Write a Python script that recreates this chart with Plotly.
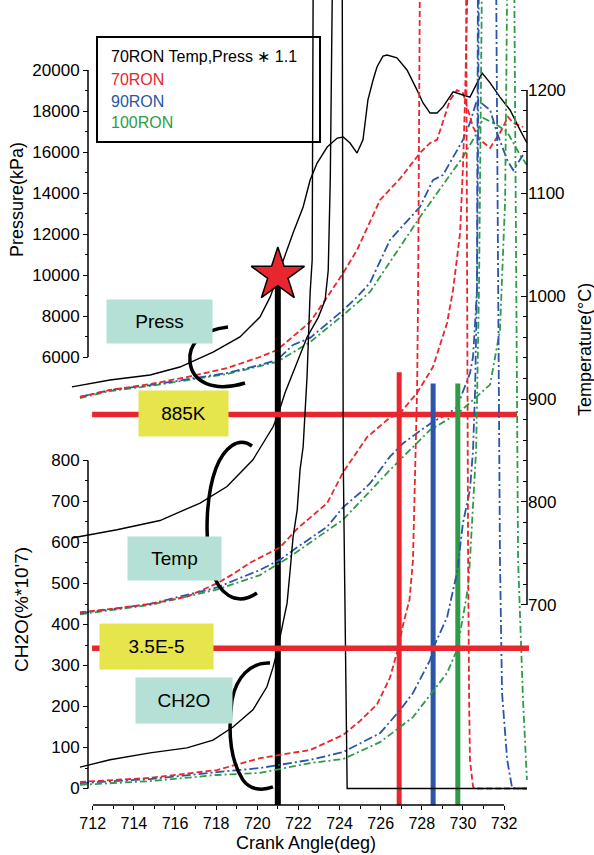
import plotly.graph_objects as go

# ---------------- data ----------------
# Black: 70RON, Temp & Press *1.1
blk_p_deg = [710.99, 712.84, 714.79, 716.24, 717.85, 719.16, 720.13, 720.63, 721.01, 721.35, 721.74, 722.23,
             722.57, 722.91, 723.40, 723.89, 724.18, 724.51, 724.85, 725.14, 725.38, 725.63, 725.82, 726.11,
             726.31, 726.79, 727.28, 727.77, 728.06, 728.40, 728.74, 729.03, 729.52, 730.00, 730.34, 730.93,
             731.32, 731.80, 732.29, 732.78, 733.11]
blk_p_kpa = [4540, 4880, 5120, 5510, 6240, 6980, 7950, 8930, 10000, 10980, 12050, 13320,
             14630, 15460, 16240, 16680, 16730, 16440, 15950, 16590, 18540, 19510, 20150, 20680,
             20730, 20590, 20000, 19020, 18390, 17900, 17900, 18200, 18930, 18780, 18680, 19850,
             19370, 18680, 18050, 17070, 16440]
blk_t_deg = [710.99, 713.18, 715.27, 717.22, 718.53, 719.79, 720.77, 721.01, 721.35, 721.74, 721.99, 722.23,
             722.42, 722.96, 723.30, 723.45, 723.55, 723.65, 733.11]
blk_t_c = [765, 773, 782, 799, 815, 841, 873, 885, 906, 925, 938, 950,
           960, 979, 996, 1025, 1113, 1300, 1300]
blk_c_deg = [711.38, 712.84, 714.79, 716.58, 717.85, 718.82, 719.79, 720.47, 720.77, 721.01, 721.11, 721.45,
             721.60, 721.74, 721.94, 722.08, 722.23, 722.32, 722.42, 722.57, 722.67, 722.72, 724.13, 724.18,
             724.32, 724.37, 733.11]
blk_c_val = [52, 70, 87, 99, 118, 150, 192, 248, 296, 342, 370, 452,
             533, 613, 679, 777, 833, 923, 1004, 1209, 1289, 2000, 2000, 801,
             216, 0, 0]

# Red: 70RON
red_p_deg = [711.38, 712.84, 714.79, 716.58, 718.53, 720.13, 720.96, 722.57, 723.40, 724.18, 724.85, 725.97,
             726.94, 727.91, 728.40, 728.74, 729.37, 729.71, 730.00, 730.20, 730.49, 730.83, 731.32, 731.80,
             732.19, 732.44, 732.92]
red_p_kpa = [4050, 4390, 4680, 5020, 5460, 6000, 6340, 7710, 8930, 10100, 11220, 13660,
             14700, 15950, 16440, 16590, 18540, 19020, 18880, 18200, 17220, 16590, 16200, 16930,
             17710, 17420, 17220]
red_t_deg = [711.38, 712.84, 714.79, 716.58, 718.04, 718.82, 719.65, 721.11, 721.94, 723.40, 724.18, 725.34,
             726.45, 726.89, 727.77, 728.54, 729.23, 729.52, 729.86, 730.00, 730.10, 730.20, 730.22, 733.11]
red_t_c = [693, 696, 701, 708, 721, 730, 741, 756, 774, 799, 829, 863,
           882, 885, 906, 931, 974, 1006, 1061, 1125, 1190, 1278, 1300, 1300]
red_c_deg = [711.38, 714.79, 718.04, 720.13, 722.57, 724.18, 725.00, 725.82, 726.45, 726.85, 727.09, 727.40,
             727.57, 727.67, 727.77, 727.82, 727.91, 730.15, 730.20, 730.25, 730.30, 730.34, 730.49, 730.59,
             733.11]
red_c_val = [16, 26, 45, 74, 94, 131, 165, 205, 270, 342, 400, 460,
             557, 760, 972, 1216, 2000, 2000, 1191, 557, 216, 70, 4, 0,
             0]

# Blue: 90RON
blu_p_deg = [711.38, 712.84, 714.79, 716.58, 718.53, 720.13, 720.96, 721.74, 722.57, 724.18, 724.85, 725.48,
             726.45, 727.91, 728.54, 729.03, 730.00, 730.34, 730.68, 730.83, 731.32, 731.66, 732.15, 732.44,
             732.92]
blu_p_kpa = [4050, 4390, 4630, 4930, 5220, 5610, 5850, 6590, 6930, 8290, 8930, 9610,
             11710, 13320, 14630, 14880, 16590, 17420, 18540, 18440, 18050, 16930, 15610, 15120,
             15850]
blu_t_deg = [711.38, 714.79, 718.04, 720.13, 721.11, 721.94, 723.40, 724.18, 725.00, 725.48, 726.45, 727.09,
             727.77, 728.54, 729.23, 729.71, 730.34, 730.49, 730.59, 730.68, 730.73, 730.77, 733.11]
blu_t_c = [692, 701, 717, 734, 744, 756, 776, 795, 809, 818, 844, 857,
           867, 878, 885, 892, 925, 941, 974, 1006, 1142, 1300, 1300]
blu_c_deg = [711.38, 714.79, 718.04, 720.13, 722.57, 724.18, 725.97, 726.94, 727.57, 728.40, 728.55, 729.23,
             729.52, 729.71, 730.00, 730.34, 730.49, 730.59, 730.68, 730.73, 731.61, 731.71, 731.80, 731.90,
             732.15, 732.39, 733.11]
blu_c_val = [13, 23, 40, 50, 70, 89, 135, 191, 233, 313, 342, 418,
             484, 526, 648, 728, 826, 972, 1216, 2000, 2000, 1216, 557, 233,
             70, 1, 0]

# Green: 100RON
grn_p_deg = [711.38, 712.84, 714.79, 716.58, 718.53, 720.13, 720.96, 722.57, 724.18, 725.48, 727.91, 730.00,
             730.68, 730.98, 731.66, 732.15, 732.44, 732.78, 733.11]
grn_p_kpa = [4000, 4340, 4590, 4880, 5170, 5560, 5760, 6730, 8050, 9170, 12830, 15760,
             16930, 17660, 17320, 16980, 16440, 15850, 15370]
grn_t_deg = [711.38, 714.79, 718.04, 720.13, 721.60, 724.18, 726.45, 728.40, 729.76, 730.49, 731.32, 731.80,
             732.05, 732.15, 733.11]
grn_t_c = [691, 700, 715, 729, 747, 783, 831, 870, 886, 899, 914, 967,
           1093, 1300, 1300]
grn_c_deg = [711.38, 714.79, 718.04, 720.13, 722.57, 724.18, 725.97, 727.57, 729.23, 729.71, 730.00, 730.25,
             730.34, 730.64, 730.78, 730.93, 732.49, 732.58, 732.68, 732.92, 733.11]
grn_c_val = [9, 18, 33, 38, 62, 72, 113, 174, 282, 338, 418, 491,
             557, 826, 1216, 2000, 2000, 1216, 557, 216, 21]

# markers of the analysis
TEMP_THRESHOLD = 885          # "885K" line, temperature axis
CH2O_THRESHOLD = 342          # "3.5E-5" line, CH2O axis
TEMP_LINE_DEG = [711.97, 732.63]
CH2O_LINE_DEG = [711.97, 733.21]
STAR_DEG, STAR_KPA = 721.0, 10000
ONSET_DEG = {"red": 726.9, "blue": 728.55, "green": 729.75}
ONSET_TOP_C = {"red": 926, "blue": 915, "green": 915}

x_ticks = list(range(712, 733, 2))
p_ticks = list(range(6000, 20001, 2000))
t_ticks = list(range(700, 1201, 100))
c_ticks = list(range(0, 801, 100))

# ---------------- layout geometry ----------------
PL, PR, PT, PB = 70, 531, 0, 805
X_RANGE = [710.896, 733.308]
P_RANGE = [-15854, 23415]
T_RANGE = [505.8, 1287.4]
C_RANGE = [-40.2, 1923]


def xp(px):
    return (px - PL) / (PR - PL)


def yp(py):
    return (PB - py) / (PB - PT)


RED = "#e8262d"
BLUE = "#2a56a8"
GREEN = "#2e9b48"
TEAL = "#b4e0d6"
YELLOW = "#e6e54b"
FONT = "Liberation Sans, Arial, sans-serif"

fig = go.Figure()
# grid holder subplot (drawn first)
fig.add_trace(go.Scatter(x=[], y=[], xaxis="x", yaxis="y", showlegend=False, hoverinfo="skip"))

DASH_R = "6px,3px"
DASH_B = "9px,3px,2px,3px"
DASH_G = "7px,3px,2px,3px"

series = [
    (grn_c_deg, grn_c_val, "y4", GREEN, DASH_G, 1.8),
    (grn_t_deg, grn_t_c, "y3", GREEN, DASH_G, 1.8),
    (grn_p_deg, grn_p_kpa, "y2", GREEN, DASH_G, 1.8),
    (blu_c_deg, blu_c_val, "y4", BLUE, DASH_B, 1.8),
    (blu_t_deg, blu_t_c, "y3", BLUE, DASH_B, 1.8),
    (blu_p_deg, blu_p_kpa, "y2", BLUE, DASH_B, 1.8),
    (red_c_deg, red_c_val, "y4", RED, DASH_R, 1.8),
    (red_t_deg, red_t_c, "y3", RED, DASH_R, 1.8),
    (red_p_deg, red_p_kpa, "y2", RED, DASH_R, 1.8),
    (blk_c_deg, blk_c_val, "y4", "black", "solid", 1.4),
    (blk_t_deg, blk_t_c, "y3", "black", "solid", 1.4),
    (blk_p_deg, blk_p_kpa, "y2", "black", "solid", 1.4),
]
for xs, ys, ya, col, dash, w in series:
    fig.add_trace(go.Scatter(x=xs, y=ys, xaxis="x2", yaxis=ya, mode="lines",
                             line=dict(color=col, width=w, dash=dash),
                             showlegend=False, hoverinfo="skip"))

# threshold lines
fig.add_trace(go.Scatter(x=TEMP_LINE_DEG, y=[TEMP_THRESHOLD] * 2, xaxis="x2", yaxis="y3", mode="lines",
                         line=dict(color=RED, width=5.5), showlegend=False, hoverinfo="skip"))
fig.add_trace(go.Scatter(x=CH2O_LINE_DEG, y=[CH2O_THRESHOLD] * 2, xaxis="x2", yaxis="y4", mode="lines",
                         line=dict(color=RED, width=5.5), showlegend=False, hoverinfo="skip"))
for key, col in (("red", RED), ("blue", BLUE), ("green", GREEN)):
    fig.add_trace(go.Scatter(x=[ONSET_DEG[key]] * 2, y=[ONSET_TOP_C[key], T_RANGE[0]], xaxis="x2", yaxis="y3",
                             mode="lines", line=dict(color=col, width=5), showlegend=False, hoverinfo="skip"))
fig.add_trace(go.Scatter(x=[STAR_DEG, STAR_DEG], y=[STAR_KPA, P_RANGE[0]], xaxis="x2", yaxis="y2", mode="lines",
                         line=dict(color="black", width=6), showlegend=False, hoverinfo="skip"))
fig.add_trace(go.Scatter(x=[STAR_DEG], y=[STAR_KPA], xaxis="x2", yaxis="y2", mode="markers",
                         marker=dict(symbol="star", size=40, color=RED, line=dict(color="black", width=1.5)),
                         showlegend=False, hoverinfo="skip", cliponaxis=False))

grid_style = dict(showgrid=True, gridcolor="#c4c4c4", griddash="dot", gridwidth=1)
tickfont = dict(family=FONT, size=16, color="black")
ytickfont = dict(family=FONT, size=17, color="black")

fig.update_layout(
    width=594, height=855,
    margin=dict(l=PL, r=594 - PR, t=PT, b=855 - PB),
    paper_bgcolor="white", plot_bgcolor="white",
    font=dict(family=FONT, color="black"),
    showlegend=False,
    xaxis=dict(domain=[xp(92.7), xp(527)], range=[712, 733.113], anchor="y",
               tickmode="array", tickvals=x_ticks, ticktext=[str(v) for v in x_ticks],
               ticks="outside", ticklen=4, tickcolor="black",
               tickfont=tickfont, showline=False, zeroline=False,
               minor=dict(tickmode="array", tickvals=list(range(713, 732, 2)), ticks="outside", ticklen=3,
                          tickcolor="black", showgrid=True, gridcolor="#c4c4c4", griddash="dot"),
               **grid_style),
    yaxis=dict(domain=[0, yp(66)], range=[-15854, 20195], anchor="x", dtick=1000, tick0=0,
               showticklabels=False, ticks="", zeroline=False, showline=False, **grid_style),
    xaxis2=dict(domain=[0, 1], range=X_RANGE, anchor="y2", visible=False),
    yaxis2=dict(domain=[0, 1], range=P_RANGE, anchor="free", position=xp(88), side="left",
                tickmode="array", tickvals=p_ticks, ticktext=[str(v) for v in p_ticks],
                ticks="outside", ticklen=5, tickcolor="black",
                tickfont=ytickfont, showgrid=False, zeroline=False, showline=False,
                minor=dict(tickmode="array", tickvals=list(range(7000, 20000, 2000)), ticks="outside",
                           ticklen=3, tickcolor="black")),
    yaxis3=dict(range=T_RANGE, overlaying="y2", anchor="free", position=xp(527), side="right",
                tickmode="array", tickvals=t_ticks, ticktext=[str(v) for v in t_ticks],
                ticks="inside", ticklen=6, tickcolor="black",
                tickfont=ytickfont, showgrid=False, zeroline=False, showline=False,
                minor=dict(tickmode="array", tickvals=[v for v in range(700, 1201, 20) if v % 100],
                           ticks="inside", ticklen=4, tickcolor="black")),
    yaxis4=dict(range=C_RANGE, overlaying="y2", anchor="free", position=xp(88), side="left",
                tickmode="array", tickvals=c_ticks, ticktext=[str(v) for v in c_ticks],
                ticks="outside", ticklen=5, tickcolor="black",
                tickfont=ytickfont, showgrid=False, zeroline=False, showline=False,
                minor=dict(tickmode="array", tickvals=list(range(50, 800, 100)), ticks="outside",
                           ticklen=3, tickcolor="black")),
)

shapes = []
# partial axis lines
shapes.append(dict(type="line", xref="x", yref="paper", x0=712, x1=732, y0=0, y1=0,
                   line=dict(color="black", width=1.5)))
shapes.append(dict(type="line", xref="paper", yref="y2", x0=xp(88), x1=xp(88), y0=p_ticks[0], y1=p_ticks[-1],
                   line=dict(color="black", width=1.5)))
shapes.append(dict(type="line", xref="paper", yref="y4", x0=xp(88), x1=xp(88), y0=c_ticks[0], y1=c_ticks[-1],
                   line=dict(color="black", width=1.5)))
shapes.append(dict(type="line", xref="paper", yref="y3", x0=xp(527), x1=xp(527), y0=t_ticks[0], y1=t_ticks[-1],
                   line=dict(color="black", width=1.5)))
# legend frame
shapes.append(dict(type="rect", xref="paper", yref="paper", x0=xp(97), x1=xp(320), y0=yp(142), y1=yp(37),
                   line=dict(color="black", width=2), fillcolor="rgba(0,0,0,0)"))


def bezier_path(pts):
    s = "M {:.4f},{:.4f}".format(xp(pts[0][0]), yp(pts[0][1]))
    rest = pts[1:]
    for i in range(0, len(rest), 3):
        a, b, c = rest[i:i + 3]
        s += " C {:.4f},{:.4f} {:.4f},{:.4f} {:.4f},{:.4f}".format(xp(a[0]), yp(a[1]), xp(b[0]), yp(b[1]),
                                                                   xp(c[0]), yp(c[1]))
    return s


brackets = [
    [(228, 327), (200, 330), (188, 345), (190, 362), (192, 381), (212, 393), (245, 383)],
    [(252, 446), (238, 436), (224, 448), (216, 468), (206, 495), (204, 540), (212, 570),
     (218, 592), (235, 608), (257, 593)],
    [(270, 663), (250, 662), (236, 678), (232, 700), (228, 730), (230, 760), (243, 780),
     (250, 790), (262, 791), (273, 787)],
]
for b in brackets:
    shapes.append(dict(type="path", xref="paper", yref="paper", path=bezier_path(b),
                       line=dict(color="black", width=3.5)))
fig.update_layout(shapes=shapes)

ann = []


def box(text, x0, x1, y0, y1, color):
    ann.append(dict(xref="paper", yref="paper", x=xp((x0 + x1) / 2), y=yp((y0 + y1) / 2),
                    xanchor="center", yanchor="middle", text=text, showarrow=False,
                    width=x1 - x0, height=y1 - y0, bgcolor=color, borderpad=0,
                    font=dict(family=FONT, size=19, color="black")))


box("Press", 107, 212, 300, 343, TEAL)
box("885K", 139, 228, 391, 436, YELLOW)
box("Temp", 128, 221, 537, 580, TEAL)
box("3.5E-5", 100, 213, 624, 669, YELLOW)
box("CH2O", 136, 232, 678, 723, TEAL)

for txt, col, yy in (("70RON Temp,Press \u2217 1.1", "black", 57), ("70RON", RED, 80),
                     ("90RON", BLUE, 101), ("100RON", GREEN, 122)):
    ann.append(dict(xref="paper", yref="paper", x=xp(109), y=yp(yy), xanchor="left", yanchor="middle",
                    text=txt, showarrow=False, font=dict(family=FONT, size=16, color=col)))

ann.append(dict(xref="paper", yref="paper", x=xp(17), y=yp(200), text="Pressure(kPa)", textangle=-90,
                showarrow=False, xanchor="center", yanchor="middle", font=dict(family=FONT, size=18)))
ann.append(dict(xref="paper", yref="paper", x=xp(21), y=yp(610), text="CH2O(%*10'7)", textangle=-90,
                showarrow=False, xanchor="center", yanchor="middle", font=dict(family=FONT, size=19)))
ann.append(dict(xref="paper", yref="paper", x=xp(585), y=yp(350), text="Temperature(\u00b0C)", textangle=-90,
                showarrow=False, xanchor="center", yanchor="middle", font=dict(family=FONT, size=18)))
ann.append(dict(xref="paper", yref="paper", x=xp(306), y=yp(843), text="Crank Angle(deg)",
                showarrow=False, xanchor="center", yanchor="middle", font=dict(family=FONT, size=18)))
fig.update_layout(annotations=ann)

fig.write_html("out.html", config={"displayModeBar": False},
               post_script="document.body.style.margin='0';document.body.style.overflow='hidden';")
